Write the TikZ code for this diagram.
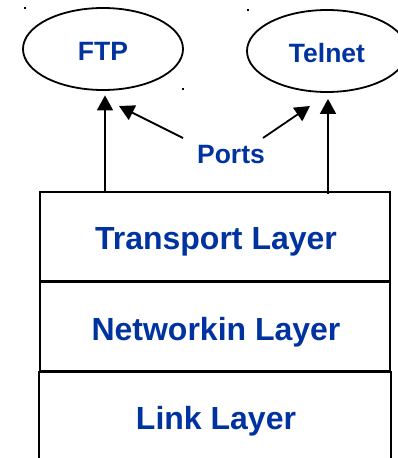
\documentclass[tikz,border=0pt]{standalone}
\usepackage{fontspec}
\setmainfont{Liberation Sans}
\usetikzlibrary{shapes.geometric,arrows.meta}
\definecolor{lblue}{HTML}{0033A0}
\begin{document}
\begin{tikzpicture}[x=1pt,y=-1pt,
  line width=1.8pt,
  app/.style={draw,ellipse,minimum width=160pt,minimum height=82pt,inner sep=0pt},
  apptext/.style={font=\bfseries\fontsize{26.5}{30}\selectfont,text=lblue,anchor=base,inner sep=0pt},
  layertext/.style={font=\bfseries\fontsize{32}{36}\selectfont,text=lblue,anchor=base,inner sep=0pt},
  cell/.style={rectangle,minimum width=350pt,minimum height=90pt,inner sep=0pt},
  arr/.style={-{Triangle[length=15pt,width=16pt]}},
  dotmark/.style={fill=black,minimum size=2.5pt,inner sep=0pt}]
\useasboundingbox (0,0) rectangle (397,458);
% application ellipses
\node[app] (ftp) at (103,49) {};
\node[app] (telnet) at (327,51) {};
\node[apptext] (ftplbl) at (103,60) {FTP};
\node[apptext] (telnetlbl) at (327,62) {Telnet};
\node[apptext] (ports) at (231,163) {Ports};
% stray dots
\node[dotmark] (d1) at (25,8) {};
\node[dotmark] (d2) at (248,10) {};
\node[dotmark] (d3) at (183,89) {};
% layer cells
\node[cell,draw] (transport) at (215,237) {};
\node[cell,draw] (network) at (215,327) {};
\node[cell] (link) at (215,417) {};
\draw (link.south west) -- (link.north west) (link.north east) -- (link.south east);
\draw[line width=2.2pt] (network.north west) -- (network.north east);
\draw[line width=2.8pt] (link.north west) -- (link.north east);
\node[layertext] (tlbl) at (216,249) {Transport Layer};
\node[layertext] (nlbl) at (216,340) {Networkin Layer};
\node[layertext] (llbl) at (216,429) {Link Layer};
% arrows
\coordinate (ftpbase) at (105,192);
\coordinate (telbase) at (328,194);
\draw[arr,shorten >=4.5pt] (ftpbase) -- (ftp.south -| ftpbase);
\draw[arr,shorten >=6pt] (telbase) -- (telnet.south -| telbase);
\coordinate (pl) at (183,138);
\coordinate (pr) at (263,138);
\coordinate (ftpport) at (119,106);
\coordinate (telport) at (310,106);
\draw[arr] (pl) -- (ftpport);
\draw[arr] (pr) -- (telport);
\end{tikzpicture}
\end{document}
